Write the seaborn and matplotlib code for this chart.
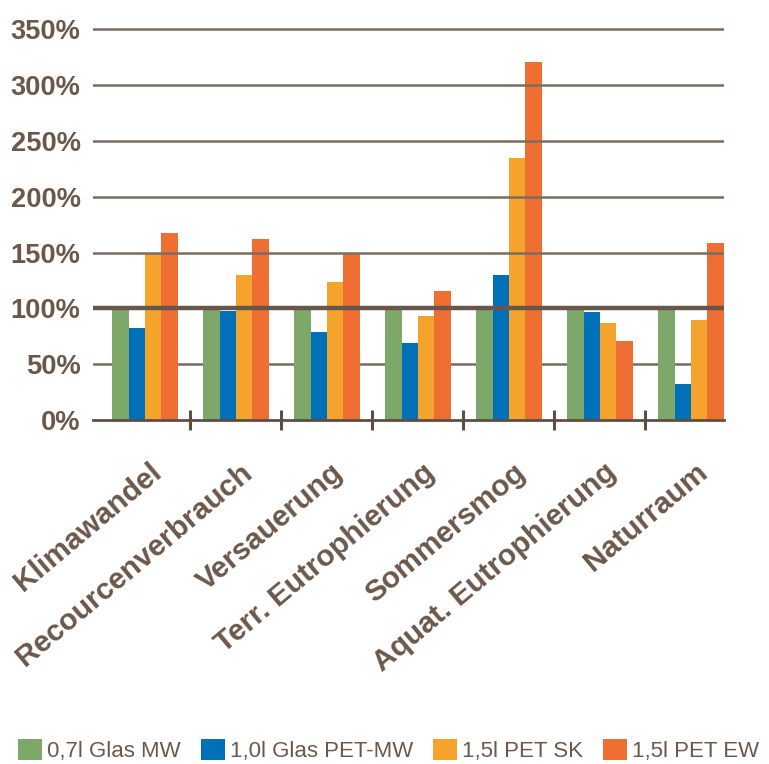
import matplotlib
matplotlib.use("Agg")
import matplotlib.pyplot as plt
import matplotlib.transforms as mtransforms
from matplotlib.patches import Patch
import seaborn as sns
import pandas as pd

categories = ["Klimawandel", "Recourcenverbrauch", "Versauerung", "Terr. Eutrophierung",
              "Sommersmog", "Aquat. Eutrophierung", "Naturraum"]
series = ["0,7l Glas MW", "1,0l Glas PET-MW", "1,5l PET SK", "1,5l PET EW"]
glas_mw = [100, 100, 100, 100, 100, 100, 100]
glas_pet_mw = [82, 98, 79, 69, 130, 97, 32]
pet_sk = [150, 130, 124, 93, 235, 87, 90]
pet_ew = [168, 162, 150, 116, 321, 71, 159]
y_ticks = [0, 50, 100, 150, 200, 250, 300, 350]
y_tick_labels = ["0%", "50%", "100%", "150%", "200%", "250%", "300%", "350%"]

colors = ["#7ea76a", "#0071b9", "#f4a42d", "#ef6e31"]
text_color = "#6b584b"
grid_color = "#7b6c62"

rows = []
for s, vals in zip(series, [glas_mw, glas_pet_mw, pet_sk, pet_ew]):
    for c, v in zip(categories, vals):
        rows.append({"Kategorie": c, "Serie": s, "Wert": v})
df = pd.DataFrame(rows)

sns.set_theme(style="white")
plt.rcParams["font.family"] = ["Liberation Sans", "DejaVu Sans"]

W, H = 769, 764
fig = plt.figure(figsize=(W / 100, H / 100), dpi=100)
px_per_100 = 111.6
ytop = 355
ax_left, ax_right = 93, 724
ax_bottom = 420
ax_top = ax_bottom - ytop * px_per_100 / 100
ax = fig.add_axes([ax_left / W, 1 - ax_bottom / H, (ax_right - ax_left) / W, (ax_bottom - ax_top) / H])

sns.barplot(data=df, x="Kategorie", y="Wert", hue="Serie", order=categories,
            hue_order=series, palette=colors, width=0.725, saturation=1,
            linewidth=0, ax=ax, legend=False, zorder=2)

# x range: group centres at 145 px (first) and 691 px (last)
unit = (691 - 145) / 6
ax.set_xlim(-(145 - ax_left) / unit, (ax_right - 145) / unit)
ax.set_ylim(0, ytop)

for s in ["top", "right", "left"]:
    ax.spines[s].set_visible(False)
ax.spines["bottom"].set_color("#5e4e43")
ax.spines["bottom"].set_linewidth(2)
ax.spines["bottom"].set_zorder(5)

# gridlines
for v in y_ticks[1:]:
    if v == 100:
        ax.axhline(v, color="#675649", lw=3.2, zorder=4)
    elif v == 50:
        ax.axhline(v, color=grid_color, lw=1.8, zorder=1)
    else:
        ax.axhline(v, color=grid_color, lw=1.8, zorder=3)

ax.set_yticks(y_ticks)
ax.set_yticklabels(y_tick_labels)
ax.tick_params(axis="y", left=False, length=0, pad=9.0, labelsize=19.6, labelcolor=text_color)
for t in ax.get_yticklabels():
    t.set_fontweight("bold")

ax.set_xticks(range(len(categories)))
ax.set_xticklabels(categories, rotation=40, ha="right", va="baseline",
                   rotation_mode="anchor", fontsize=21.5, fontweight="bold",
                   color=text_color)
ax.tick_params(axis="x", which="major", bottom=False, length=0, pad=39.5)
offset = mtransforms.ScaledTranslation(18 / 100, 0, fig.dpi_scale_trans)
for t in ax.get_xticklabels():
    t.set_transform(t.get_transform() + offset)

ax.set_xticks([i + 0.49 for i in range(len(categories) - 1)], minor=True)
ax.tick_params(axis="x", which="minor", bottom=True, direction="inout", length=14.4,
               width=2.2, color="#5e4e43")
ax.set_xlabel("")
ax.set_ylabel("")

handles = [Patch(facecolor=c, edgecolor="none") for c in colors]
fs = 16.0
fpx = fs * 100 / 72
fig.legend(handles, series, loc="center left",
           bbox_to_anchor=(18 / W, 1 - 750.5 / H), ncol=4, frameon=False,
           fontsize=fs, labelcolor=text_color, handlelength=24 / fpx,
           handleheight=23 / fpx, handletextpad=5 / fpx, columnspacing=20 / fpx,
           borderpad=0, borderaxespad=0)

fig.savefig("out.png", dpi=100)
